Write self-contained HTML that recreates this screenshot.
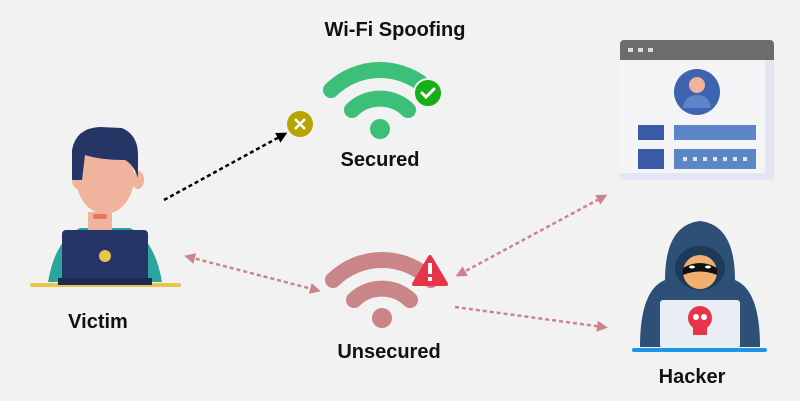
<!DOCTYPE html><html><head><style>body{margin:0;background:#f2f2f2}svg{display:block}text{font-family:"Liberation Sans",sans-serif;font-weight:bold;fill:#111;font-size:20px;text-anchor:middle}</style></head><body>
<svg width="800" height="401" viewBox="0 0 800 401">
<rect width="800" height="401" fill="#f2f2f2"/>
<text x="395" y="36">Wi-Fi Spoofing</text>
<text x="380" y="166">Secured</text>
<text x="389" y="358">Unsecured</text>
<text x="98" y="328">Victim</text>
<text x="692" y="383">Hacker</text>
<g fill="none" stroke="#3cbf78" stroke-width="16" stroke-linecap="round">
<path d="M331 90 A70 70 0 0 1 429 90"/><path d="M352 110 A40 40 0 0 1 408 110"/></g>
<circle cx="380" cy="129" r="10" fill="#3cbf78"/>
<circle cx="428" cy="93" r="14" fill="#16b016" stroke="#f2f2f2" stroke-width="2"/>
<path d="M422 93 l4 4 l8 -8" stroke="#fff" stroke-width="3" fill="none" stroke-linecap="round"/>
<g fill="none" stroke="#c98587" stroke-width="16" stroke-linecap="round">
<path d="M333 280 A70 70 0 0 1 431 280"/><path d="M354 300 A40 40 0 0 1 410 300"/></g>
<circle cx="382" cy="318" r="10" fill="#c98587"/>
<path d="M430 257 L446 284 L414 284 Z" fill="#e8344a" stroke="#e8344a" stroke-width="4" stroke-linejoin="round"/>
<rect x="428" y="263" width="4" height="11" fill="#fff"/><rect x="428" y="277" width="4" height="4" fill="#fff"/>
<defs><marker id="b" markerUnits="userSpaceOnUse" markerWidth="11" markerHeight="11" refX="6" refY="5.5" orient="auto"><path d="M0 0 L11 5.5 L0 11Z" fill="#000"/></marker>
<marker id="p" markerUnits="userSpaceOnUse" markerWidth="11" markerHeight="11" refX="6" refY="5.5" orient="auto-start-reverse"><path d="M0 0 L11 5.5 L0 11Z" fill="#c98587"/></marker></defs>
<line x1="164" y1="200" x2="283" y2="135" stroke="#000" stroke-width="2.5" stroke-dasharray="4 3" marker-end="url(#b)"/>
<circle cx="300" cy="124" r="13" fill="#b6a400"/>
<path d="M295 119 l10 10 M305 119 l-10 10" stroke="#fff" stroke-width="2.5"/>
<g stroke="#c98587" stroke-width="2.5" stroke-dasharray="4 3" fill="none">
<line x1="189" y1="257" x2="316" y2="290" marker-start="url(#p)" marker-end="url(#p)"/>
<line x1="460" y1="274" x2="603" y2="197" marker-start="url(#p)" marker-end="url(#p)"/>
<line x1="455" y1="307" x2="603" y2="327" marker-end="url(#p)"/></g>
<rect x="30" y="283" width="151" height="4" rx="2" fill="#e8c64a"/>
<path d="M48 282 Q55 240 80 228 L130 228 Q155 240 162 282Z" fill="#2aa69e"/>
<rect x="88" y="212" width="24" height="20" fill="#f0b39e"/>
<rect x="93" y="214" width="14" height="5" rx="2" fill="#e07a5a"/>
<ellipse cx="78" cy="180" rx="6" ry="9" fill="#f0b39e"/><ellipse cx="138" cy="180" rx="6" ry="9" fill="#f0b39e"/>
<ellipse cx="105" cy="177" rx="29" ry="37" fill="#f0b39e"/>
<path d="M72 180 L72 150 Q76 128 100 127 L122 128 Q138 135 138 155 L138 178 Q134 165 125 160 Q100 160 85 155 L82 180Z" fill="#243566"/>
<rect x="62" y="230" width="86" height="55" rx="4" fill="#243566"/>
<rect x="58" y="278" width="94" height="7" fill="#1c2a52"/>
<circle cx="105" cy="256" r="6" fill="#e8c64a"/>
<rect x="620" y="40" width="154" height="140" rx="4" fill="#e2e5f4"/>
<rect x="620" y="40" width="145" height="133" fill="#f4f4f6"/>
<path d="M624 40 h146 a4 4 0 0 1 4 4 v16 h-154 v-16 a4 4 0 0 1 4 -4z" fill="#6c6c6c"/>
<rect x="628" y="48" width="5" height="4" fill="#ddd"/><rect x="638" y="48" width="5" height="4" fill="#ddd"/><rect x="648" y="48" width="5" height="4" fill="#ddd"/>
<circle cx="697" cy="92" r="23" fill="#3e63b0"/>
<circle cx="697" cy="85" r="8" fill="#f0b39e"/><path d="M683 108 Q685 95 697 95 Q709 95 711 108Z" fill="#5d86c9"/>
<rect x="638" y="125" width="26" height="15" fill="#3a5aa8"/><rect x="674" y="125" width="82" height="15" fill="#5d86c9"/>
<rect x="638" y="149" width="26" height="20" fill="#3a5aa8"/><rect x="674" y="149" width="82" height="20" fill="#5d86c9"/>
<g fill="#dfe6f5"><rect x="683" y="157" width="4" height="4"/><rect x="693" y="157" width="4" height="4"/><rect x="703" y="157" width="4" height="4"/><rect x="713" y="157" width="4" height="4"/><rect x="723" y="157" width="4" height="4"/><rect x="733" y="157" width="4" height="4"/><rect x="743" y="157" width="4" height="4"/></g>
<path d="M640 347 Q640 290 665 280 Q665 225 700 221 Q735 225 735 280 Q760 290 760 347Z" fill="#2e5077"/>
<ellipse cx="700" cy="268" rx="25" ry="22" fill="#1f3a58"/>
<ellipse cx="700" cy="272" rx="17" ry="17" fill="#f0b070"/>
<path d="M683 268 Q700 258 717 268 L717 275 Q700 268 683 275Z" fill="#111"/>
<ellipse cx="692" cy="267" rx="3" ry="1.5" fill="#fff"/><ellipse cx="708" cy="267" rx="3" ry="1.5" fill="#fff"/>
<rect x="660" y="300" width="80" height="48" rx="3" fill="#e9eef5"/>
<circle cx="700" cy="318" r="12" fill="#e8344a"/><rect x="693" y="325" width="14" height="10" fill="#e8344a"/>
<circle cx="696" cy="317" r="3" fill="#fff"/><circle cx="704" cy="317" r="3" fill="#fff"/>
<rect x="632" y="348" width="135" height="4" rx="2" fill="#1e96e6"/>
</svg></body></html>
